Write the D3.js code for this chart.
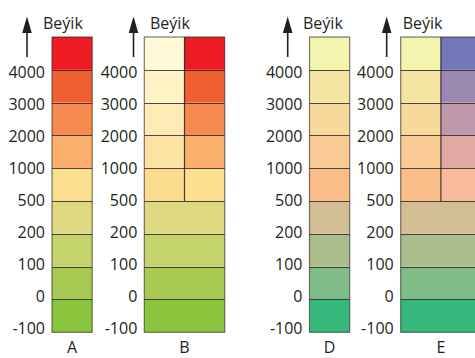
<!DOCTYPE html>
<html><head><meta charset="utf-8">
<script src="https://cdn.jsdelivr.net/npm/d3@7"></script>
<style>html,body{margin:0;padding:0;background:#fff;}svg{display:block;}</style>
</head><body>
<svg id="chart" width="475" height="358"></svg>
<script>
// ---- data ----
const categories = ["A", "B", "D", "E"];
const tickLabels = ["-100", "0", "100", "200", "500", "1000", "2000", "3000", "4000"];
const bandNames = ["-100–0", "0–100", "100–200", "200–500", "500–1000", "1000–2000", "2000–3000", "3000–4000", ">4000"];
const axisTitle = "Beýik";
// colours bottom -> top
const colorsA = ["#8BC43F", "#A9CA52", "#C5D46A", "#DFD981", "#FDE08F", "#F9B06C", "#F58B4E", "#F05F32", "#ED1C24"];
const colorsBLeftUpper = ["#FCDC8E", "#FDE3A3", "#FEEAB5", "#FFF2C4", "#FFF9D8"];
const colorsD = ["#36B87B", "#80BC88", "#AABD8B", "#D2BD94", "#FBBE88", "#F9CA93", "#F8D99C", "#F6E4A2", "#F3F4AE"];
const colorsERightUpper = ["#F9B99B", "#E0AAA1", "#C09AAA", "#9C89B2", "#7478B9"];
const splitFrom = 4; // bands from index 4 (500 m) upward are split in B and E

// ---- layout ----
const svg = d3.select("#chart");
const font = "'Open Sans', 'Noto Sans', sans-serif";
const yLine = d3.scaleLinear().domain([0, bandNames.length]).range([332.3, 37]);
const yLabel = d3.scaleLinear().domain([0, tickLabels.length - 1]).range([327.5, 72]);
const barLeft = d3.scaleOrdinal().domain(categories).range([52, 144.3, 309.5, 400.7]);
const arrowX = d3.scaleOrdinal().domain(categories).range([27, 133.5, 287.7, 386.7]);
const titleX = d3.scaleOrdinal().domain(categories).range([43, 150, 303, 402.7]);
const colW = 40.2;

const specs = {
  A: { cols: [colorsA] },
  B: { cols: [colorsA.slice(0, splitFrom).concat(colorsBLeftUpper), colorsA] , split: true },
  D: { cols: [colorsD] },
  E: { cols: [colorsD, colorsD.slice(0, splitFrom).concat(colorsERightUpper)], split: true }
};

categories.forEach(cat => {
  const s = specs[cat];
  const x0 = barLeft(cat);
  const ncol = s.split ? 2 : 1;
  const w = ncol === 2 ? colW * 2 : colW;
  const g = svg.append("g");

  // bands
  bandNames.forEach((b, i) => {
    const y0 = yLine(i + 1), y1 = yLine(i);
    if (ncol === 1 || i < splitFrom) {
      g.append("rect").attr("x", x0).attr("y", y0).attr("width", w).attr("height", y1 - y0)
        .attr("fill", s.cols[0][i]);
    } else {
      s.cols.forEach((cols, c) => {
        g.append("rect").attr("x", x0 + c * colW).attr("y", y0).attr("width", colW).attr("height", y1 - y0)
          .attr("fill", cols[i]);
      });
    }
  });
  // band separators
  d3.range(1, bandNames.length).forEach(i => {
    g.append("line").attr("x1", x0).attr("x2", x0 + w)
      .attr("y1", Math.round(yLine(i)) + 0.5).attr("y2", Math.round(yLine(i)) + 0.5)
      .attr("stroke", "#231f20").attr("stroke-opacity", 0.8).attr("stroke-width", 1.2);
  });
  if (ncol === 2) {
    g.append("line").attr("x1", x0 + colW).attr("x2", x0 + colW)
      .attr("y1", yLine(bandNames.length)).attr("y2", yLine(splitFrom))
      .attr("stroke", "#231f20").attr("stroke-opacity", 0.85).attr("stroke-width", 1.2);
  }
  g.append("rect").attr("x", x0).attr("y", yLine(bandNames.length)).attr("width", w)
    .attr("height", yLine(0) - yLine(bandNames.length))
    .attr("fill", "none").attr("stroke", "#231f20").attr("stroke-opacity", 0.6).attr("stroke-width", 1.2);

  // tick labels via axis
  const axis = d3.axisLeft(yLabel).tickValues(d3.range(tickLabels.length))
    .tickFormat(i => tickLabels[i]).tickSize(0).tickPadding(0);
  const ax = svg.append("g").attr("transform", `translate(${x0 - 7},0)`).call(axis);
  ax.select(".domain").remove();
  ax.selectAll("text").attr("font-family", font).attr("font-size", 16).attr("fill", "#231f20")
    .attr("dy", "0.36em");

  // arrow + title
  const ax0 = arrowX(cat);
  svg.append("line").attr("x1", ax0).attr("x2", ax0).attr("y1", 57).attr("y2", 30)
    .attr("stroke", "#231f20").attr("stroke-width", 1.6);
  svg.append("path")
    .attr("d", `M${ax0},16.5 L${ax0 + 4.8},33 L${ax0 - 4.8},33 Z`)
    .attr("fill", "#231f20");
  svg.append("text").attr("x", titleX(cat)).attr("y", 28.5).text(axisTitle)
    .attr("font-family", font).attr("font-size", 16).attr("fill", "#231f20");

  // category label
  svg.append("text").attr("x", x0 + w / 2).attr("y", 353).attr("text-anchor", "middle")
    .text(cat).attr("font-family", font).attr("font-size", 16).attr("fill", "#231f20");
});
</script>
</body></html>
